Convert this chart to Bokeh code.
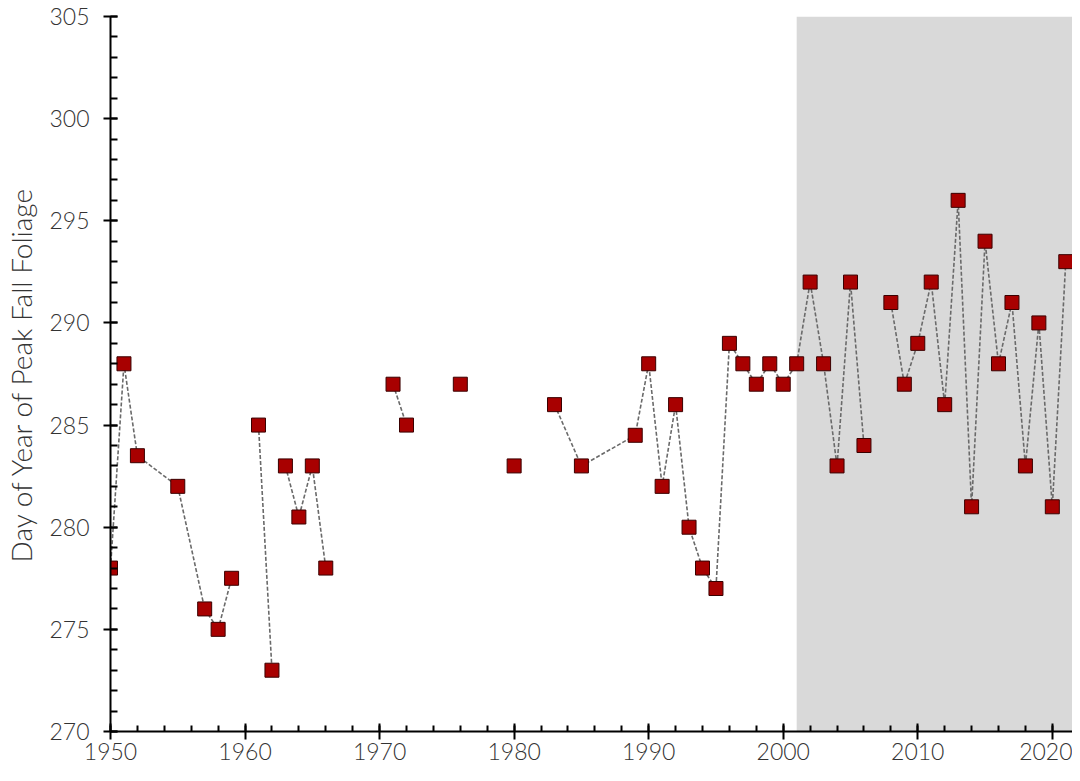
import numpy as np
from bokeh.plotting import figure
from bokeh.models import BoxAnnotation, SingleIntervalTicker, ColumnDataSource, Range1d
from bokeh.embed import file_html
from bokeh.resources import INLINE

years = [1950, 1951, 1952, 1955, 1957, 1958, 1959, 1961, 1962, 1963, 1964, 1965, 1966,
         1971, 1972, 1976, 1980, 1983, 1985, 1989, 1990, 1991, 1992, 1993, 1994, 1995,
         1996, 1997, 1998, 1999, 2000, 2001, 2002, 2003, 2004, 2005, 2006, 2008, 2009,
         2010, 2011, 2012, 2013, 2014, 2015, 2016, 2017, 2018, 2019, 2020, 2021]
peak_day = [278, 288, 283.5, 282, 276, 275, 277.5, 285, 273, 283, 280.5, 283, 278,
            287, 285, 287, 283, 286, 283, 284.5, 288, 282, 286, 280, 278, 277,
            289, 288, 287, 288, 287, 288, 292, 288, 283, 292, 284, 291, 287,
            289, 292, 286, 296, 281, 294, 288, 291, 283, 290, 281, 293]
# 1 = joined to previous point by the dashed line, 0 = line break before this point
joined = [0, 1, 1, 1, 1, 1, 1, 0, 1, 0, 1, 1, 1,
          0, 1, 0, 0, 0, 1, 1, 1, 1, 1, 1, 1, 1,
          1, 1, 1, 1, 1, 1, 1, 1, 1, 1, 1, 0, 1,
          1, 1, 1, 1, 1, 1, 1, 1, 1, 1, 1, 1]
recent_start = 2001

lx, ly = [], []
for i, (x, y) in enumerate(zip(years, peak_day)):
    if i > 0 and not joined[i]:
        lx.append(np.nan)
        ly.append(np.nan)
    lx.append(x)
    ly.append(y)

FONT = "Lato Light"
TXT = "#333333"

p = figure(width=1072, height=765, output_backend="svg", toolbar_location=None,
           x_range=Range1d(1950, 2021.5), y_range=Range1d(270, 305),
           min_border_left=110, min_border_right=0, min_border_top=16, min_border_bottom=34)
p.outline_line_color = None
p.xgrid.visible = False
p.ygrid.visible = False
p.background_fill_color = "white"

shade = BoxAnnotation(left=recent_start, fill_color="#d9d9d9", fill_alpha=1.0,
                      line_color=None, level="underlay")
p.add_layout(shade)

p.line(lx, ly, line_color="#6a6a6a", line_width=1.6, line_dash="4 2")
src = ColumnDataSource(dict(x=years, y=peak_day))
p.scatter("x", "y", source=src, marker="square", size=14,
          fill_color="#a80000", line_color="#3a0000", line_width=1)

p.xaxis.ticker = SingleIntervalTicker(interval=10, num_minor_ticks=5)
p.yaxis.ticker = SingleIntervalTicker(interval=5, num_minor_ticks=5)

for ax in (p.xaxis[0], p.yaxis[0]):
    ax.axis_line_color = "black"
    ax.axis_line_width = 2
    ax.major_tick_line_color = "black"
    ax.major_tick_line_width = 2
    ax.minor_tick_line_color = "black"
    ax.minor_tick_line_width = 2
    ax.major_label_text_font = FONT
    ax.major_label_text_font_size = "23px"
    ax.major_label_text_color = TXT
    ax.axis_label_text_font = FONT
    ax.axis_label_text_font_style = "normal"
    ax.axis_label_text_color = TXT

p.xaxis.major_tick_in = 8
p.xaxis.major_tick_out = 8
p.xaxis.minor_tick_in = 6
p.xaxis.minor_tick_out = 0
p.xaxis.major_label_standoff = 3

p.yaxis.major_tick_in = 7
p.yaxis.major_tick_out = 7
p.yaxis.minor_tick_in = 7
p.yaxis.minor_tick_out = 0
p.yaxis.major_label_standoff = 14
p.yaxis.axis_label = "Day of Year of Peak Fall Foliage"
p.yaxis.axis_label_text_font_size = "28px"
p.yaxis.axis_label_standoff = 8

open("out.html", "w").write(file_html(p, INLINE))
